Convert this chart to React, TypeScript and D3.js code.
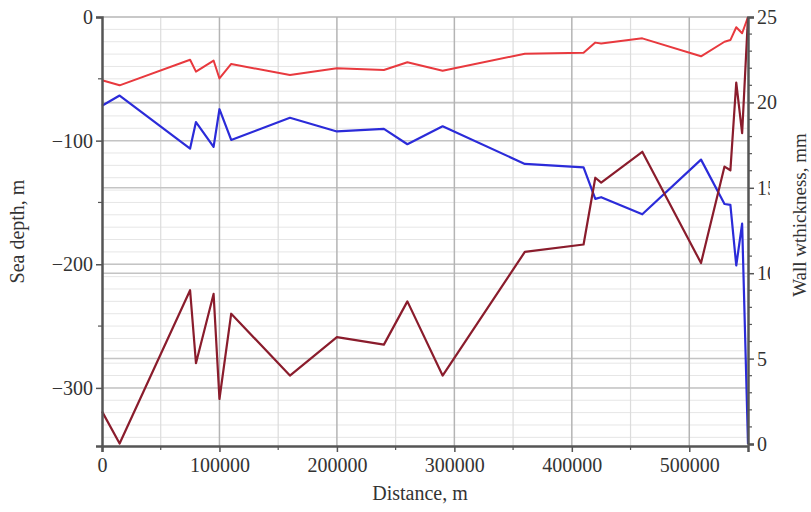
import React, { useEffect, useRef } from "react";
import * as d3 from "d3";

// distance along the route, m
const distance = [0, 15000, 75000, 80000, 95000, 100000, 110000, 160000, 200000, 240000, 260000, 290000, 360000, 410000, 420000, 425000, 460000, 510000, 530000, 535000, 540000, 545000, 550000];
// sea depth, m (left axis)
const seaDepth = [-319, -345, -221, -280, -224, -309, -240, -290, -259, -265, -230, -290, -190, -184, -130, -134, -109, -199, -121, -124, -53, -94, 0];
// wall thickness, mm (right axis)
const wallRed = [21.3, 21.0, 22.5, 21.8, 22.45, 21.4, 22.25, 21.6, 22.0, 21.9, 22.35, 21.85, 22.85, 22.9, 23.5, 23.45, 23.75, 22.7, 23.55, 23.65, 24.4, 24.05, 25];
const wallBlue = [19.8, 20.4, 17.3, 18.85, 17.4, 19.6, 17.8, 19.1, 18.3, 18.45, 17.55, 18.6, 16.4, 16.2, 14.35, 14.45, 13.45, 16.65, 14.05, 14.0, 10.45, 12.9, 0];

const xTicks = [0, 100000, 200000, 300000, 400000, 500000];
const leftTicks = [0, -100, -200, -300];
const rightTicks = [0, 5, 10, 15, 20, 25];

export default function App() {
  const ref = useRef<SVGSVGElement>(null);

  useEffect(() => {
    const width = 811;
    const height = 512;
    const margin = { top: 17, right: 63, bottom: 66, left: 102 };
    const font = "'Liberation Serif', 'Times New Roman', serif";
    const axisColor = "#555";

    const svg = d3.select(ref.current);
    svg.selectAll("*").remove();

    const x = d3.scaleLinear().domain([0, 550000]).range([margin.left, width - margin.right]);
    const yL = d3.scaleLinear().domain([-347, 0]).range([height - margin.bottom, margin.top]);
    const yR = d3.scaleLinear().domain([0, 25]).range([height - margin.bottom - 2, margin.top]);

    const x0 = margin.left, x1 = width - margin.right;
    const yTop = margin.top, yBot = height - margin.bottom;

    // minor grid
    const grid = svg.append("g");
    grid.selectAll(".hminor")
      .data(d3.range(-340, 0, 10))
      .enter().append("line")
      .attr("x1", x0).attr("x2", x1)
      .attr("y1", (d) => yL(d)).attr("y2", (d) => yL(d))
      .attr("stroke", "#e6e6e6").attr("stroke-width", 1);
    grid.selectAll(".vminor")
      .data(d3.range(50000, 550000, 100000))
      .enter().append("line")
      .attr("x1", (d) => x(d)).attr("x2", (d) => x(d))
      .attr("y1", yTop).attr("y2", yBot)
      .attr("stroke", "#dcdcdc").attr("stroke-width", 1.2);

    // major grid
    grid.selectAll(".hleft")
      .data(leftTicks)
      .enter().append("line")
      .attr("x1", x0).attr("x2", x1)
      .attr("y1", (d) => yL(d)).attr("y2", (d) => yL(d))
      .attr("stroke", "#c4c4c4").attr("stroke-width", 1.5);
    grid.selectAll(".hright")
      .data(rightTicks.slice(1))
      .enter().append("line")
      .attr("x1", x0).attr("x2", x1)
      .attr("y1", (d) => yR(d)).attr("y2", (d) => yR(d))
      .attr("stroke", "#c4c4c4").attr("stroke-width", 1.5);
    grid.selectAll(".vmajor")
      .data(xTicks.slice(1))
      .enter().append("line")
      .attr("x1", (d) => x(d)).attr("x2", (d) => x(d))
      .attr("y1", yTop).attr("y2", yBot)
      .attr("stroke", "#b4b4b4").attr("stroke-width", 1.5);

    // lines
    const idx = d3.range(distance.length);
    const lineL = d3.line<number>().x((i) => x(distance[i])).y((i) => yL(seaDepth[i]));
    const lineRed = d3.line<number>().x((i) => x(distance[i])).y((i) => yR(wallRed[i]));
    const lineBlue = d3.line<number>().x((i) => x(distance[i])).y((i) => yR(wallBlue[i]));

    svg.append("path").attr("d", lineRed(idx)).attr("fill", "none")
      .attr("stroke", "#e8393e").attr("stroke-width", 2).attr("stroke-linejoin", "round");
    svg.append("path").attr("d", lineBlue(idx)).attr("fill", "none")
      .attr("stroke", "#2b2bd9").attr("stroke-width", 2.2).attr("stroke-linejoin", "round");
    svg.append("path").attr("d", lineL(idx)).attr("fill", "none")
      .attr("stroke", "#8a1c2c").attr("stroke-width", 2.2).attr("stroke-linejoin", "round");

    // axes
    const styleAxis = (g: any) => {
      g.select(".domain").attr("stroke", axisColor).attr("stroke-width", 2.5);
      g.selectAll(".tick line").attr("stroke", axisColor).attr("stroke-width", 1.5);
      g.selectAll("text").attr("fill", "#333").style("font-family", font).style("font-size", "20px");
    };
    const minorTicks = (g: any, vals: number[], pos: (v: number) => number, dir: string) => {
      g.selectAll(".mt").data(vals).enter().append("line")
        .attr("stroke", axisColor).attr("stroke-width", 1.2)
        .attr("x1", (d: number) => (dir === "b" ? pos(d) : 0))
        .attr("x2", (d: number) => (dir === "b" ? pos(d) : dir === "l" ? -4 : 4))
        .attr("y1", (d: number) => (dir === "b" ? 0 : pos(d)))
        .attr("y2", (d: number) => (dir === "b" ? 4 : pos(d)));
    };

    const gx = svg.append("g").attr("transform", `translate(0,${yBot})`)
      .call(d3.axisBottom(x).tickValues(xTicks).tickFormat(d3.format("d")).tickSizeOuter(0).tickSize(6).tickPadding(6));
    styleAxis(gx);
    minorTicks(gx, d3.range(50000, 550000, 100000), x, "b");

    const gl = svg.append("g").attr("transform", `translate(${x0},0)`)
      .call(d3.axisLeft(yL).tickValues(leftTicks).tickFormat(d3.format("d")).tickSizeOuter(0).tickSize(6).tickPadding(3));
    styleAxis(gl);
    minorTicks(gl, [-50, -150, -250], yL, "l");

    const gr = svg.append("g").attr("transform", `translate(${x1},0)`)
      .call(d3.axisRight(yR).tickValues(rightTicks).tickFormat(d3.format("d")).tickSizeOuter(0).tickSize(6).tickPadding(3));
    styleAxis(gr);
    minorTicks(gr, d3.range(1, 25).filter((v) => v % 5 !== 0), yR, "r");

    // titles
    svg.append("text")
      .attr("transform", `translate(24,${(yTop + yBot) / 2}) rotate(-90)`)
      .attr("text-anchor", "middle")
      .style("font-family", font).style("font-size", "20px").attr("fill", "#333")
      .text("Sea depth, m");

    svg.append("text")
      .attr("x", (x0 + x1) / 2 - 5).attr("y", 500)
      .attr("text-anchor", "middle")
      .style("font-family", font).style("font-size", "20px").attr("fill", "#333")
      .text("Distance, m");

    svg.append("rect").attr("x", 770).attr("y", 132).attr("width", 41).attr("height", 166).attr("fill", "white");
    svg.append("text")
      .attr("transform", `translate(806,215) rotate(-90)`)
      .attr("text-anchor", "middle")
      .style("font-family", font).style("font-size", "19px").attr("fill", "#333")
      .text("Wall wthickness, mm");
  }, []);

  return (
    <div style={{ position: "fixed", left: 0, top: 0 }}>
      <svg ref={ref} width={811} height={512} style={{ display: "block", background: "white" }} />
    </div>
  );
}
